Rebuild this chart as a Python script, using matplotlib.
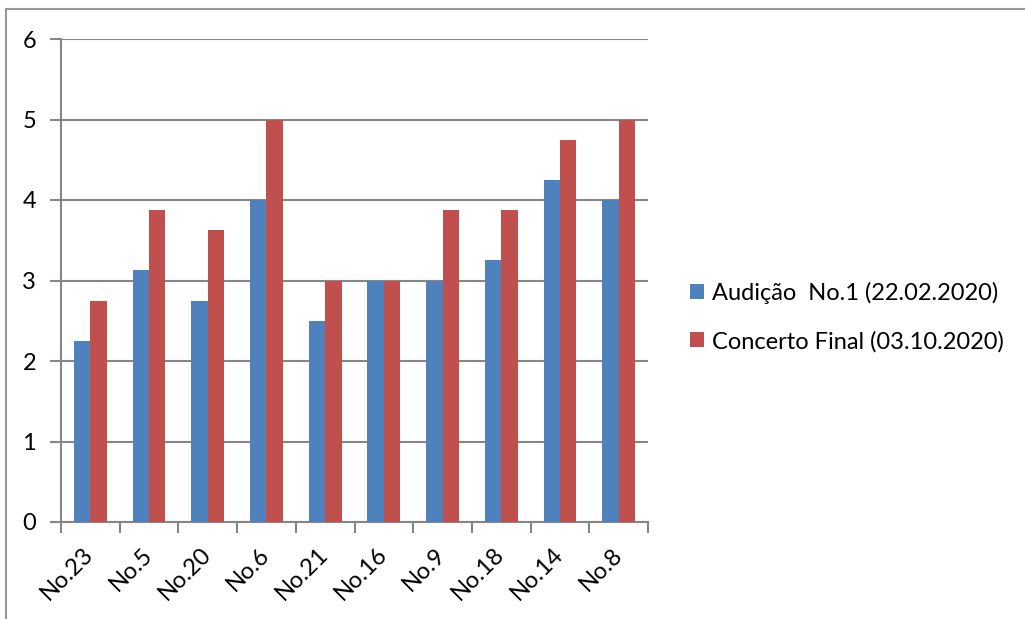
import matplotlib.pyplot as plt
import numpy as np
from matplotlib.lines import Line2D

plt.rcParams['font.family'] = ['Lato', 'DejaVu Sans']

pieces = ['No.23', 'No.5', 'No.20', 'No.6', 'No.21', 'No.16', 'No.9', 'No.18', 'No.14', 'No.8']
audicao = [2.25, 3.125, 2.75, 4, 2.5, 3, 3, 3.25, 4.25, 4]
concerto = [2.75, 3.875, 3.625, 5, 3, 3, 3.875, 3.875, 4.75, 5]

blue = '#4F81BD'
red = '#C0504D'
grid = '#868686'

fig = plt.figure(figsize=(10.25, 6.19), dpi=100)
ax = fig.add_axes([61 / 1025, 97 / 619, 587 / 1025, 483 / 619])

x = np.arange(len(pieces))
w = 0.28
ax.bar(x - w / 2, audicao, w, color=blue, label='Audição  No.1 (22.02.2020)', zorder=3)
ax.bar(x + w / 2, concerto, w, color=red, label='Concerto Final (03.10.2020)', zorder=3)

ax.set_xlim(-0.5, len(pieces) - 0.5)
ax.set_ylim(0, 6)
ax.set_yticks(range(7))
ax.yaxis.grid(True, color=grid, linewidth=1.5, zorder=0)
ax.set_xticks(np.arange(len(pieces) + 1) - 0.5, minor=False)
ax.set_xticklabels([])
ax.set_xticks(x, minor=True)
ax.set_xticklabels(pieces, minor=True, rotation=45, ha='right', va='center',
                   rotation_mode='anchor', fontsize=17)
ax.tick_params(axis='x', which='major', length=8, width=1.5, color=grid)
ax.tick_params(axis='x', which='minor', length=0, pad=21)
ax.tick_params(axis='y', length=8, width=1.5, color=grid, labelsize=17, pad=10)

for side in ['top', 'right']:
    ax.spines[side].set_visible(False)
for side in ['left', 'bottom']:
    ax.spines[side].set_color(grid)
    ax.spines[side].set_linewidth(1.5)

ax.legend(loc='center left', bbox_to_anchor=(1.055, 0.424), frameon=False,
          fontsize=17, handlelength=0.6, handleheight=0.6, handletextpad=0.35,
          labelspacing=1.12, borderaxespad=0)

# outer chart frame (only top and left edges show)
fig.add_artist(Line2D([6 / 1025, 1], [1 - 9 / 619, 1 - 9 / 619], color='#999999', linewidth=1.5))
fig.add_artist(Line2D([6 / 1025, 6 / 1025], [0, 1 - 9 / 619], color='#999999', linewidth=1.5))

fig.savefig('out.png', dpi=100)
